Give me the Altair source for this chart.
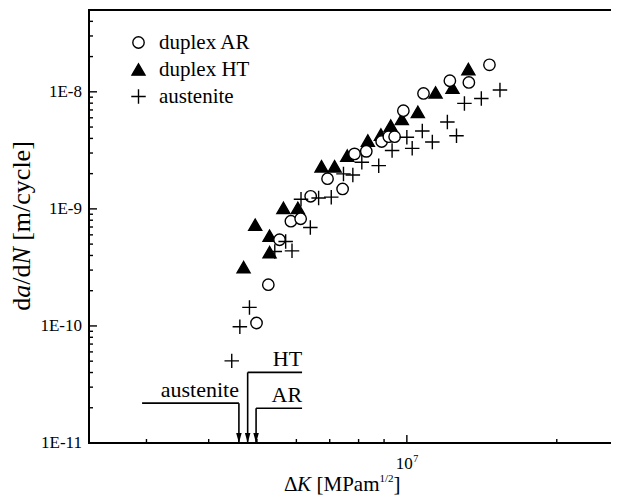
import altair as alt
import pandas as pd

# ---- data (ΔK, da/dN) ----
ar_dk = [4.99e6, 5.27e6, 5.55e6, 5.85e6, 6.12e6, 6.41e6, 6.93e6, 7.43e6, 7.85e6,
         8.29e6, 8.90e6, 9.20e6, 9.45e6, 9.84e6, 1.080e7, 1.220e7, 1.332e7, 1.465e7]
ar_rate = [1.06e-10, 2.25e-10, 5.45e-10, 7.85e-10, 8.23e-10, 1.28e-9, 1.81e-9, 1.48e-9, 2.95e-9,
           3.10e-9, 3.76e-9, 4.14e-9, 4.14e-9, 6.90e-9, 9.69e-9, 1.243e-8, 1.202e-8, 1.70e-8]

ht_dk = [4.70e6, 4.96e6, 5.30e6, 5.30e6, 5.65e6, 6.04e6, 6.74e6, 7.16e6, 7.59e6,
         8.35e6, 8.87e6, 9.28e6, 9.77e6, 1.052e7, 1.142e7, 1.235e7, 1.329e7]
ht_rate = [3.18e-10, 7.32e-10, 5.90e-10, 4.27e-10, 1.02e-9, 1.02e-9, 2.31e-9, 2.31e-9, 2.85e-9,
           3.83e-9, 4.31e-9, 5.14e-9, 5.86e-9, 6.74e-9, 9.88e-9, 1.083e-8, 1.563e-8]

aus_dk = [4.45e6, 4.62e6, 4.83e6, 5.43e6, 5.71e6, 5.88e6, 6.40e6, 6.13e6, 6.65e6, 7.05e6,
          7.46e6, 7.79e6, 8.12e6, 8.78e6, 9.34e6, 1.0e7, 1.025e7, 1.074e7, 1.125e7, 1.206e7,
          1.258e7, 1.305e7, 1.411e7, 1.538e7]
aus_rate = [5.03e-11, 9.84e-11, 1.44e-10, 4.33e-10, 5.27e-10, 4.38e-10, 6.94e-10, 1.21e-9, 1.24e-9, 1.26e-9,
            1.99e-9, 1.95e-9, 2.50e-9, 2.34e-9, 3.15e-9, 4.09e-9, 3.29e-9, 4.63e-9, 3.73e-9, 5.53e-9,
            4.22e-9, 7.96e-9, 8.77e-9, 1.038e-8]

series_names = ["duplex AR", "duplex HT", "austenite"]

# threshold annotations
thr_names = ["austenite", "HT", "AR"]
thr_dk = [4.60e6, 4.79e6, 4.98e6]
thr_level = [2.19e-11, 4.01e-11, 1.98e-11]
thr_start = [2.94e6, 4.79e6, 4.98e6]
thr_end = [4.60e6, 6.16e6, 6.16e6]

# axis ticks and labels
x_minor = [3e6, 4e6, 5e6, 6e6, 7e6, 8e6, 9e6, 2e7]
x_major = [1e7]
y_minor = [2e-11, 3e-11, 4e-11, 5e-11, 6e-11, 7e-11, 8e-11, 9e-11,
           2e-10, 3e-10, 4e-10, 5e-10, 6e-10, 7e-10, 8e-10, 9e-10,
           2e-9, 3e-9, 4e-9, 5e-9, 6e-9, 7e-9, 8e-9, 9e-9,
           2e-8, 3e-8, 4e-8]
y_major = [1e-10, 1e-9, 1e-8]
y_labels = [1e-11, 1e-10, 1e-9, 1e-8]

X_DOMAIN = [2.3e6, 2.57e7]
Y_DOMAIN = [1e-11, 5e-8]

W, H = 522, 433
FONT = "Liberation Serif"

xscale = alt.Scale(type="log", domain=X_DOMAIN, nice=False)
yscale = alt.Scale(type="log", domain=Y_DOMAIN, nice=False)

pts = pd.DataFrame({
    "dk": ht_dk + ar_dk + aus_dk,
    "rate": ht_rate + ar_rate + aus_rate,
    "series": (["duplex HT"] * len(ht_dk) + ["duplex AR"] * len(ar_dk)
               + ["austenite"] * len(aus_dk)),
})

PLUS = "M-1,0H1M0,-1V1"


def leg():
    return alt.Legend(title=None, orient="none", legendX=39, legendY=22,
                      labelFont=FONT, labelFontSize=21, labelColor="black",
                      labelOffset=10, rowPadding=5, padding=0,
                      symbolStrokeWidth=1.4)


points = alt.Chart(pts).mark_point(strokeWidth=1.4, opacity=1).encode(
    x=alt.X("dk:Q", scale=xscale, axis=None),
    y=alt.Y("rate:Q", scale=yscale, axis=None),
    shape=alt.Shape("series:N", legend=leg(),
                    scale=alt.Scale(domain=series_names, range=["circle", "triangle-up", PLUS])),
    fill=alt.Fill("series:N", legend=leg(),
                  scale=alt.Scale(domain=series_names, range=["white", "black", "transparent"])),
    stroke=alt.Stroke("series:N", legend=leg(),
                      scale=alt.Scale(domain=series_names, range=["black", "black", "black"])),
    size=alt.Size("series:N", legend=leg(),
                  scale=alt.Scale(domain=series_names, range=[130, 210, 160])),
    order=alt.Order("idx:Q"),
).transform_window(idx="row_number()")


# inward ticks
def yticks(vals, length):
    return alt.Chart(pd.DataFrame({"v": vals})).mark_rule(color="black", strokeWidth=1.4).encode(
        y=alt.Y("v:Q", scale=yscale, axis=None), x=alt.value(0), x2=alt.value(length))


def xticks(vals, length):
    return alt.Chart(pd.DataFrame({"v": vals})).mark_rule(color="black", strokeWidth=1.4).encode(
        x=alt.X("v:Q", scale=xscale, axis=None), y=alt.value(H), y2=alt.value(H - length))


def frame_line(**enc):
    return alt.Chart(pd.DataFrame({"a": [0]})).mark_rule(color="black", strokeWidth=2).encode(**enc)


top_line = frame_line(x=alt.value(0), x2=alt.value(W), y=alt.value(0))
bottom_line = frame_line(x=alt.value(-1), x2=alt.value(W), y=alt.value(H))
left_line = frame_line(x=alt.value(0), y=alt.value(-1), y2=alt.value(H + 1))

ylab = alt.Chart(pd.DataFrame({"v": y_labels})).transform_calculate(
    lab="'1E' + round(log(datum.v)/LN10)"
).mark_text(font=FONT, fontSize=17, align="right", baseline="middle", color="black").encode(
    y=alt.Y("v:Q", scale=yscale, axis=None), x=alt.value(-7), text="lab:N")

xlab_base = alt.Chart(pd.DataFrame({"v": x_major, "t": ["10"]})).mark_text(
    font=FONT, fontSize=17, align="right", baseline="alphabetic", dx=6, color="black").encode(
    x=alt.X("v:Q", scale=xscale, axis=None), y=alt.value(H + 26), text="t:N")
xlab_exp = alt.Chart(pd.DataFrame({"v": x_major, "t": ["7"]})).mark_text(
    font=FONT, fontSize=10, align="left", baseline="alphabetic", dx=6.5, color="black").encode(
    x=alt.X("v:Q", scale=xscale, axis=None), y=alt.value(H + 19), text="t:N")


def txt(s, x, y, size, italic=False, angle=0):
    return alt.Chart(pd.DataFrame({"t": [s]})).mark_text(
        font=FONT, fontSize=size, fontStyle="italic" if italic else "normal",
        angle=angle, align="left", baseline="middle" if angle else "alphabetic",
        color="black").encode(x=alt.value(x), y=alt.value(y), text="t:N")


# x-axis title: ΔK [MPam^1/2]
xt_y = H + 48
x_title = [
    txt("Δ", 195, xt_y, 21),
    txt("K", 207.9, xt_y, 21, italic=True),
    txt("[MPam", 227.5, xt_y, 21),
    txt("1/2", 290.5, xt_y - 9, 11),
    txt("]", 304.5, xt_y, 21),
]

# y-axis title: da/dN [m/cycle] (reads bottom to top)
yt_x = -67.5
y_title = [
    txt("d", yt_x, 300.8, 26, angle=270),
    txt("a", yt_x, 287.8, 26, italic=True, angle=270),
    txt("/d", yt_x, 274.8, 26, angle=270),
    txt("N", yt_x, 254.6, 26, italic=True, angle=270),
    txt("[m/cycle]", yt_x, 230.8, 26, angle=270),
]

thr = pd.DataFrame({"name": thr_names, "dk": thr_dk, "level": thr_level,
                    "start": thr_start, "end": thr_end, "base": [Y_DOMAIN[0]] * 3})

h_lines = alt.Chart(thr).mark_rule(color="black", strokeWidth=1.6).encode(
    x=alt.X("start:Q", scale=xscale, axis=None), x2="end:Q",
    y=alt.Y("level:Q", scale=yscale, axis=None))
v_lines = alt.Chart(thr).mark_rule(color="black", strokeWidth=1.6).encode(
    x=alt.X("dk:Q", scale=xscale, axis=None),
    y=alt.Y("level:Q", scale=yscale, axis=None), y2="base:Q")
ARROW = "M-0.55,-1L0.55,-1L0,1Z"
heads = alt.Chart(thr).mark_point(shape=ARROW, filled=True, color="black", size=100,
                                  opacity=1, yOffset=-5).encode(
    x=alt.X("dk:Q", scale=xscale, axis=None),
    y=alt.Y("base:Q", scale=yscale, axis=None))
labels = alt.Chart(thr).mark_text(font=FONT, fontSize=22, align="right", baseline="bottom",
                                  dy=-1, color="black").encode(
    x=alt.X("end:Q", scale=xscale, axis=None),
    y=alt.Y("level:Q", scale=yscale, axis=None),
    text="name:N")

chart = alt.layer(
    yticks(y_minor, 4), yticks(y_major, 8), xticks(x_minor, 4), xticks(x_major, 8),
    top_line, bottom_line, left_line, ylab, xlab_base, xlab_exp, *x_title, *y_title,
    h_lines, v_lines, heads, labels, points,
).properties(
    width=W, height=H, autosize="none",
    padding={"left": 81, "top": 2, "right": 0, "bottom": 52},
).configure_view(stroke=None).configure(background="white")

chart.save("out.html", embed_options={"renderer": "svg", "actions": False})
